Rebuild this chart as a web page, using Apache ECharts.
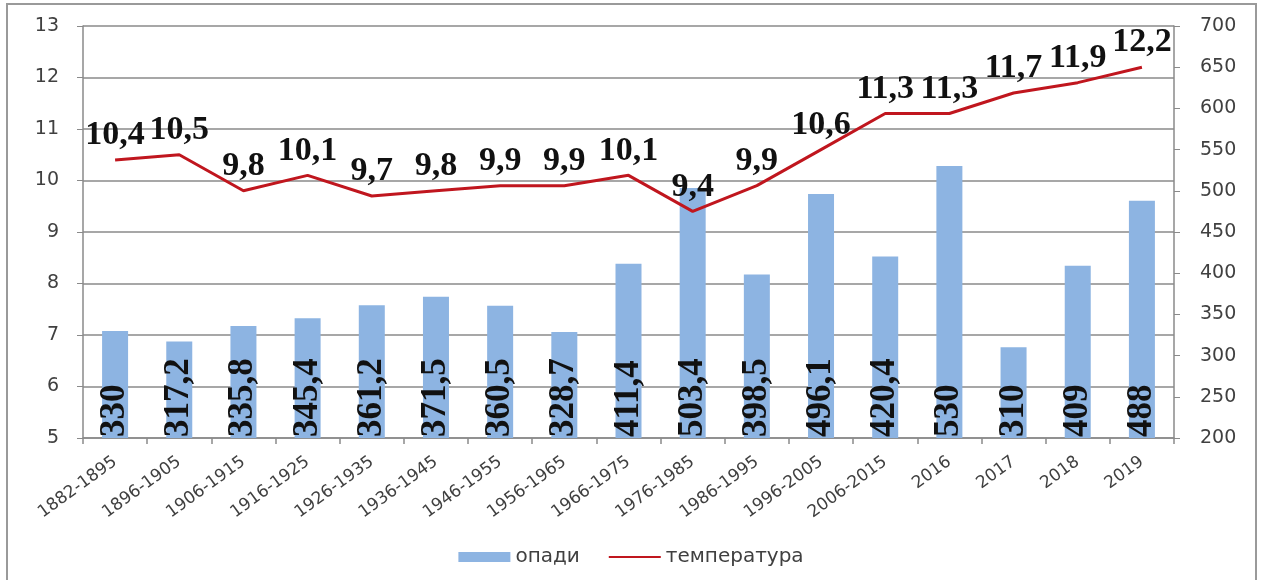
<!DOCTYPE html>
<html>
<head>
<meta charset="utf-8">
<script src="https://cdn.jsdelivr.net/npm/echarts@6/dist/echarts.min.js"></script>
<style>
  html, body { margin: 0; padding: 0; background: #fff; }
  #chart { width: 1262px; height: 580px; }
</style>
</head>
<body>
<div id="chart"></div>
<script>
// Periods along the x axis
const periods = ['1882-1895', '1896-1905', '1906-1915', '1916-1925', '1926-1935', '1936-1945',
  '1946-1955', '1956-1965', '1966-1975', '1976-1985', '1986-1995', '1996-2005', '2006-2015',
  '2016', '2017', '2018', '2019'];

// Precipitation, mm (right axis)
const precipitation = [330, 317.2, 335.8, 345.4, 361.2, 371.5, 360.5, 328.7, 411.4, 503.4,
  398.5, 496.1, 420.4, 530, 310, 409, 488];

// Mean temperature, °C (left axis)
const temperature = [10.4, 10.5, 9.8, 10.1, 9.7, 9.8, 9.9, 9.9, 10.1, 9.4, 9.9, 10.6, 11.3,
  11.3, 11.7, 11.9, 12.2];

const seriesNames = ['опади', 'температура'];

const commaNum = v => String(v).replace('.', ',');
const axisGrey = '#8a8a8a';
const labelGrey = '#404040';
const lineRed = '#c0161e';

const chart = echarts.init(document.getElementById('chart'), null, { renderer: 'canvas' });

chart.setOption({
  animation: false,
  backgroundColor: '#fff',
  graphic: [{
    type: 'rect',
    shape: { x: 7, y: 4, width: 1249, height: 580 },
    style: { fill: 'none', stroke: '#9a9a9a', lineWidth: 2 },
    silent: true
  }],
  grid: { left: 83, right: 88, top: 26, bottom: 142 },
  legend: {
    bottom: 8,
    left: 'center',
    itemGap: 28,
    itemWidth: 52,
    itemHeight: 10,
    textStyle: { fontFamily: 'DejaVu Sans', fontSize: 20, color: labelGrey },
    data: [
      { name: seriesNames[0], icon: 'rect' },
      { name: seriesNames[1], itemStyle: { opacity: 0 } }
    ]
  },
  xAxis: {
    type: 'category',
    data: periods,
    boundaryGap: true,
    axisLine: { lineStyle: { color: axisGrey, width: 1.5 } },
    axisTick: { show: true, alignWithLabel: false, length: 6, lineStyle: { color: axisGrey, width: 1.5 } },
    axisLabel: {
      interval: 0,
      rotate: 36,
      margin: 22,
      fontFamily: 'DejaVu Sans',
      fontSize: 17,
      color: labelGrey
    }
  },
  yAxis: [
    {
      type: 'value',
      min: 5,
      max: 13,
      interval: 1,
      axisLine: { show: true, lineStyle: { color: axisGrey, width: 1.5 } },
      axisTick: { show: true, length: 6, lineStyle: { color: axisGrey } },
      axisLabel: { margin: 24, fontFamily: 'DejaVu Sans', fontSize: 19, color: labelGrey },
      splitLine: { lineStyle: { color: axisGrey, width: 1.5 } }
    },
    {
      type: 'value',
      min: 200,
      max: 700,
      interval: 50,
      position: 'right',
      axisLine: { show: true, lineStyle: { color: axisGrey, width: 1.5 } },
      axisTick: { show: true, length: 6, lineStyle: { color: axisGrey } },
      axisLabel: { margin: 26, fontFamily: 'DejaVu Sans', fontSize: 19, color: labelGrey },
      splitLine: { show: false }
    }
  ],
  series: [
    {
      name: seriesNames[0],
      type: 'bar',
      yAxisIndex: 1,
      data: precipitation,
      barWidth: 26,
      itemStyle: { color: '#8db4e2' },
      label: {
        show: true,
        position: 'insideBottom',
        rotate: 90,
        align: 'left',
        verticalAlign: 'middle',
        distance: 1,
        fontFamily: 'Liberation Serif',
        fontWeight: 'bold',
        fontSize: 35,
        color: '#111',
        formatter: p => commaNum(p.value)
      },
      z: 2
    },
    {
      name: seriesNames[1],
      type: 'line',
      yAxisIndex: 0,
      data: temperature,
      symbol: 'circle',
      symbolSize: 1,
      showSymbol: true,
      lineStyle: { color: lineRed, width: 3 },
      itemStyle: { color: lineRed, opacity: 0 },
      label: {
        show: true,
        position: 'top',
        distance: 7,
        fontFamily: 'Liberation Serif',
        fontWeight: 'bold',
        fontSize: 34,
        color: '#111',
        opacity: 1,
        formatter: p => commaNum(p.value)
      },
      labelLayout: { hideOverlap: false },
      z: 3
    }
  ]
});
</script>
</body>
</html>
